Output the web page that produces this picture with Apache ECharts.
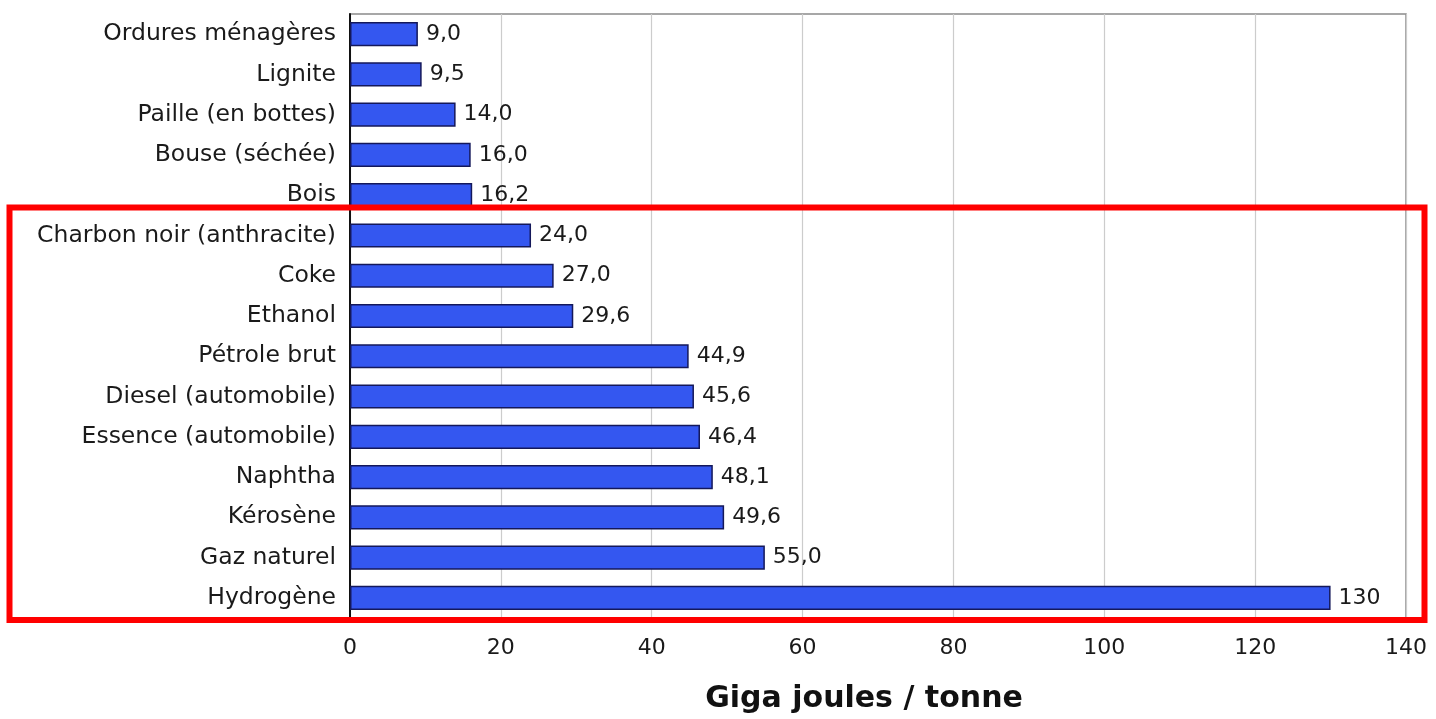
<!DOCTYPE html>
<html>
<head>
<meta charset="utf-8">
<script src="https://cdn.jsdelivr.net/npm/echarts@6/dist/echarts.min.js"></script>
<style>
  html, body { margin: 0; padding: 0; background: #ffffff; }
  #chart { width: 1436px; height: 719px; }
</style>
</head>
<body>
<div id="chart"></div>
<script>
// Fuels, listed top to bottom
const categories = [
  'Ordures ménagères', 'Lignite', 'Paille (en bottes)', 'Bouse (séchée)', 'Bois',
  'Charbon noir (anthracite)', 'Coke', 'Ethanol', 'Pétrole brut', 'Diesel (automobile)',
  'Essence (automobile)', 'Naphtha', 'Kérosène', 'Gaz naturel', 'Hydrogène'
];
// Energy content in GJ per tonne
const values = [9.0, 9.5, 14.0, 16.0, 16.2, 24.0, 27.0, 29.6, 44.9, 45.6, 46.4, 48.1, 49.6, 55.0, 130];
const xTicks = [0, 20, 40, 60, 80, 100, 120, 140];

const fontFamily = '"DejaVu Sans", "Liberation Sans", Arial, sans-serif';
const chart = echarts.init(document.getElementById('chart'));

// French decimal notation, one decimal below 100
function frNumber(v) {
  return v >= 100 ? String(v) : v.toFixed(1).replace('.', ',');
}

chart.setOption({
  backgroundColor: '#ffffff',
  animation: false,
  grid: {
    left: 350, right: 30, top: 14, bottom: 99,
    show: true, borderColor: '#8a8a8a', borderWidth: 1.5
  },
  xAxis: {
    type: 'value',
    min: xTicks[0],
    max: xTicks[xTicks.length - 1],
    interval: 20,
    name: 'Giga joules / tonne',
    nameLocation: 'middle',
    nameGap: 66,
    nameTextStyle: {
      fontFamily, fontSize: 30, fontWeight: 'bold', color: '#111',
      padding: [0, 28, 0, 0]
    },
    axisLine: { show: true, lineStyle: { color: '#222', width: 1.5 } },
    axisTick: { show: true, length: 4, lineStyle: { color: '#222' } },
    axisLabel: { fontFamily, fontSize: 22, color: '#1a1a1a', margin: 19 },
    splitLine: { show: true, lineStyle: { color: '#cccccc', width: 1.2 } }
  },
  yAxis: {
    type: 'category',
    data: categories,
    inverse: true,
    axisLine: { show: true, lineStyle: { color: '#111', width: 2 } },
    axisTick: { show: false },
    axisLabel: { fontFamily, fontSize: 23.5, color: '#1a1a1a', margin: 14 },
    splitLine: { show: false }
  },
  series: [{
    type: 'bar',
    data: values,
    barWidth: '60%',
    itemStyle: { color: '#3457f0', borderColor: '#14185a', borderWidth: 1.5 },
    label: {
      show: true,
      position: 'right',
      distance: 8,
      fontFamily, fontSize: 22, color: '#1a1a1a',
      formatter: p => frNumber(p.value)
    }
  }],
  graphic: [{
    type: 'rect',
    z: 100,
    shape: { x: 9.5, y: 207.5, width: 1415, height: 412.5 },
    style: { fill: 'none', stroke: '#ff0000', lineWidth: 6 }
  }]
});
</script>
</body>
</html>
